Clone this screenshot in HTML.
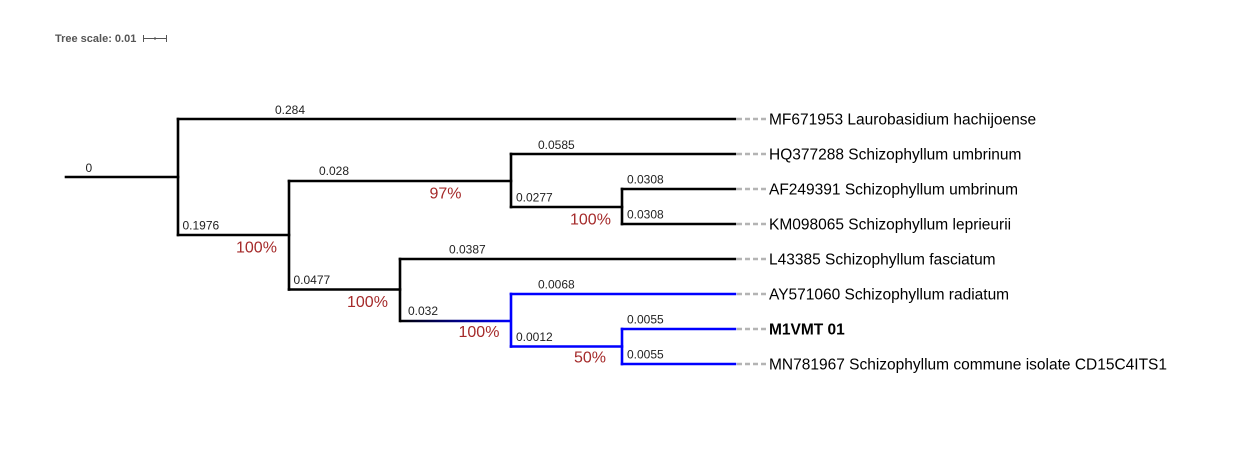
<!DOCTYPE html>
<html>
<head>
<meta charset="utf-8">
<style>
  html, body { margin: 0; padding: 0; background: #ffffff; }
  body { width: 1249px; height: 454px; overflow: hidden; }
  svg { display: block; }
  .bl { font-family: "Liberation Sans", Arial, sans-serif; font-size: 12px; fill: #222; }
  .sp { font-family: "Liberation Sans", Arial, sans-serif; font-size: 16px; fill: #a52a2a; }
  .lf { font-family: "Liberation Sans", Arial, sans-serif; font-size: 15.5px; fill: #000; }
</style>
</head>
<body>
<svg width="1249" height="454" viewBox="0 0 1249 454" xmlns="http://www.w3.org/2000/svg">
  <defs>
    <linearGradient id="g1" x1="400" y1="0" x2="511" y2="0" gradientUnits="userSpaceOnUse">
      <stop offset="0" stop-color="#000000"/>
      <stop offset="1" stop-color="#0000ff"/>
    </linearGradient>
  </defs>

  <!-- tree scale -->
  <text x="55" y="42" font-family="Liberation Sans, Arial, sans-serif" font-size="11" font-weight="bold" fill="#555">Tree scale: 0.01</text>
  <g stroke="#555" stroke-width="1" fill="none">
    <line x1="143" y1="38.5" x2="167" y2="38.5"/>
    <line x1="143.5" y1="35" x2="143.5" y2="42"/>
    <line x1="166.5" y1="35" x2="166.5" y2="42"/>
    <line x1="155" y1="37" x2="155" y2="40"/>
  </g>

  <!-- black branches -->
  <g stroke="#000" stroke-width="2.6" fill="none" stroke-linecap="square">
    <line x1="66" y1="177" x2="178" y2="177"/>
    <line x1="178" y1="119" x2="178" y2="235"/>
    <line x1="178" y1="119" x2="735" y2="119"/>
    <line x1="178" y1="235" x2="289" y2="235"/>
    <line x1="289" y1="181" x2="289" y2="289.5"/>
    <line x1="289" y1="181" x2="511" y2="181"/>
    <line x1="511" y1="154" x2="511" y2="207"/>
    <line x1="511" y1="154" x2="735" y2="154"/>
    <line x1="511" y1="207" x2="622" y2="207"/>
    <line x1="622" y1="189" x2="622" y2="224"/>
    <line x1="622" y1="189" x2="735" y2="189"/>
    <line x1="622" y1="224" x2="735" y2="224"/>
    <line x1="289" y1="289.5" x2="400" y2="289.5"/>
    <line x1="400" y1="259" x2="400" y2="321"/>
    <line x1="400" y1="259" x2="735" y2="259"/>
  </g>
  <line x1="400" y1="321" x2="511" y2="321" stroke="url(#g1)" stroke-width="2.6"/>
  <!-- blue branches -->
  <g stroke="#0000ff" stroke-width="2.6" fill="none" stroke-linecap="square">
    <line x1="511" y1="294" x2="511" y2="346.5"/>
    <line x1="511" y1="294" x2="735" y2="294"/>
    <line x1="511" y1="346.5" x2="622" y2="346.5"/>
    <line x1="622" y1="329" x2="622" y2="364"/>
    <line x1="622" y1="329" x2="735" y2="329"/>
    <line x1="622" y1="364" x2="735" y2="364"/>
  </g>

  <!-- dashed leaf connectors -->
  <g stroke="#b4b4b4" stroke-width="2.6" stroke-dasharray="5,3" fill="none">
    <line x1="737" y1="119" x2="768" y2="119"/>
    <line x1="737" y1="154" x2="768" y2="154"/>
    <line x1="737" y1="189" x2="768" y2="189"/>
    <line x1="737" y1="224" x2="768" y2="224"/>
    <line x1="737" y1="259" x2="768" y2="259"/>
    <line x1="737" y1="294" x2="768" y2="294"/>
    <line x1="737" y1="329" x2="768" y2="329"/>
    <line x1="737" y1="364" x2="768" y2="364"/>
  </g>

  <!-- branch length labels -->
  <text class="bl" x="85.5" y="172">0</text>
  <text class="bl" x="275" y="114">0.284</text>
  <text class="bl" x="182.5" y="229.5">0.1976</text>
  <text class="bl" x="319" y="175">0.028</text>
  <text class="bl" x="293.5" y="284">0.0477</text>
  <text class="bl" x="538" y="149">0.0585</text>
  <text class="bl" x="516" y="201.5">0.0277</text>
  <text class="bl" x="627" y="183.5">0.0308</text>
  <text class="bl" x="627" y="218.5">0.0308</text>
  <text class="bl" x="449" y="253.5">0.0387</text>
  <text class="bl" x="408" y="315">0.032</text>
  <text class="bl" x="538" y="288.5">0.0068</text>
  <text class="bl" x="516" y="341">0.0012</text>
  <text class="bl" x="627" y="323.5">0.0055</text>
  <text class="bl" x="627" y="358.5">0.0055</text>

  <!-- support labels -->
  <text class="sp" x="236" y="252.5">100%</text>
  <text class="sp" x="429.5" y="198.5">97%</text>
  <text class="sp" x="570" y="224.5">100%</text>
  <text class="sp" x="347" y="307">100%</text>
  <text class="sp" x="458.5" y="337">100%</text>
  <text class="sp" x="574" y="362.5">50%</text>

  <!-- leaf labels -->
  <text class="lf" x="769" y="124.5">MF671953 Laurobasidium hachijoense</text>
  <text class="lf" x="769" y="159.5">HQ377288 Schizophyllum umbrinum</text>
  <text class="lf" x="769" y="194.5">AF249391 Schizophyllum umbrinum</text>
  <text class="lf" x="769" y="229.5">KM098065 Schizophyllum leprieurii</text>
  <text class="lf" x="769" y="264.5">L43385 Schizophyllum fasciatum</text>
  <text class="lf" x="769" y="299.5">AY571060 Schizophyllum radiatum</text>
  <text class="lf" x="769" y="334.5" font-weight="bold">M1VMT 01</text>
  <text class="lf" x="769" y="369.5">MN781967 Schizophyllum commune isolate CD15C4ITS1</text>
</svg>
</body>
</html>
